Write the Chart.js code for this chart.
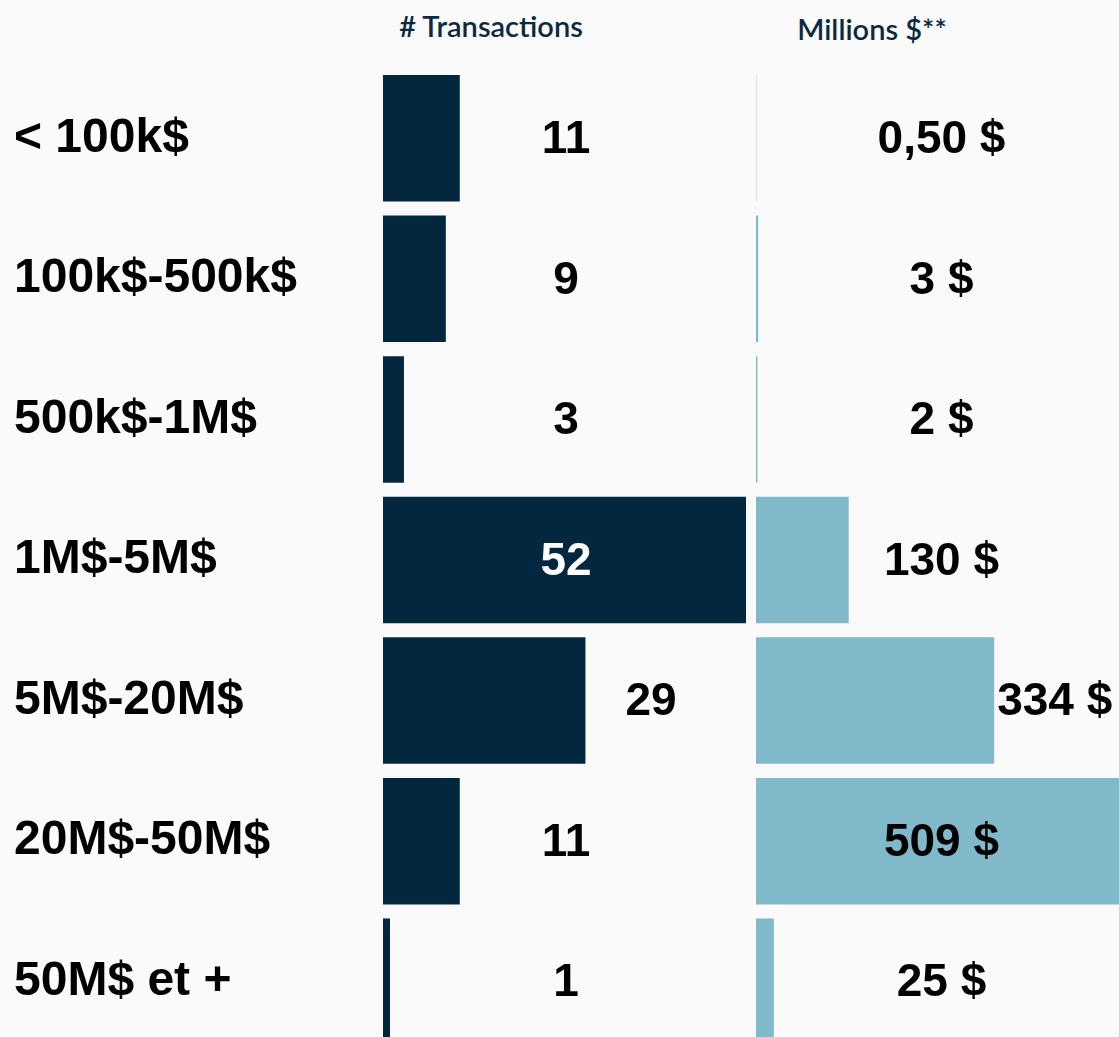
<!DOCTYPE html>
<html>
<head>
<meta charset="utf-8">
<script src="https://cdn.jsdelivr.net/npm/chart.js@4/dist/chart.umd.min.js"></script>
<style>
  html, body { margin: 0; padding: 0; background: #fafafa; overflow: hidden; width: 1119px; height: 1037px; }
  #wrap { position: relative; width: 1119px; height: 1037px; overflow: hidden; }
  .hdr { position: absolute; font-family: Lato, "Open Sans", sans-serif; font-weight: 600; color: #0b2a40; font-size: 29px; white-space: nowrap; transform: translateX(-50%); line-height: 1; }
  #leftBox { position: absolute; left: 0; top: 0; width: 751px; height: 1082px; }
  #rightBox { position: absolute; left: 756px; top: 0; width: 363px; height: 1082px; }
</style>
</head>
<body>
<div id="wrap">
  <div class="hdr" id="h0" style="left:491px; top:11px;"></div>
  <div class="hdr" id="h1" style="left:872px; top:14px;"></div>
  <div id="leftBox"><canvas id="leftChart"></canvas></div>
  <div id="rightBox"><canvas id="rightChart"></canvas></div>
</div>
<script>
const categories = ['< 100k$', '100k$-500k$', '500k$-1M$', '1M$-5M$', '5M$-20M$', '20M$-50M$', '50M$ et +'];
const transactions = [11, 9, 3, 52, 29, 11, 1];
const millions = [0.5, 3, 2, 130, 334, 509, 25];
const headers = ['# Transactions', 'Millions $**'];

document.getElementById('h0').textContent = headers[0];
document.getElementById('h1').textContent = headers[1];

const NAVY = '#02273f';
const LIGHT = '#80b9c9';
const LABEL_FONT = 'bold 46px "Liberation Sans", Arial, sans-serif';

function fmtMoney(v) {
  return (v < 1 ? v.toFixed(2).replace('.', ',') : String(v)) + ' $';
}

// Value labels: centred in the plot area, unless the bar end would collide
// with the label, in which case the label is drawn just past the bar end.
const valueLabels = {
  id: 'valueLabels',
  afterDatasetsDraw(chart, args, opts) {
    const ctx = chart.ctx;
    const area = chart.chartArea;
    const meta = chart.getDatasetMeta(0);
    const data = chart.data.datasets[0].data;
    ctx.save();
    ctx.font = LABEL_FONT;
    ctx.textBaseline = 'middle';
    meta.data.forEach((bar, i) => {
      const txt = opts.format(data[i]);
      const cx = (area.left + area.right) / 2 + opts.shift;
      const w = ctx.measureText(txt).width;
      let x = cx, align = 'center';
      const inside = opts.insideWhite.includes(i);
      if (!inside && bar.x > cx - w / 2 - 5 && bar.x < cx + w / 2 + 60) {
        x = bar.x + opts.outsideGap;
        align = 'left';
      }
      ctx.fillStyle = inside ? '#ffffff' : '#000000';
      ctx.textAlign = align;
      ctx.fillText(txt, x, bar.y + 2);
    });
    ctx.restore();
  }
};

const commonY = {
  type: 'category',
  grid: { display: false },
  border: { display: false }
};

new Chart(document.getElementById('leftChart'), {
  type: 'bar',
  data: {
    labels: categories,
    datasets: [{
      data: transactions,
      backgroundColor: NAVY,
      borderWidth: 0,
      categoryPercentage: 1,
      barPercentage: 0.9
    }]
  },
  options: {
    indexAxis: 'y',
    responsive: true,
    maintainAspectRatio: false,
    animation: false,
    layout: { padding: { left: 14, right: 5, top: 68, bottom: 30 } },
    plugins: {
      legend: { display: false },
      tooltip: { enabled: false },
      valueLabels: { format: v => String(v), outsideGap: 40, insideWhite: [3], shift: 1.5 }
    },
    scales: {
      x: { display: false, min: 0, max: 52 },
      y: Object.assign({}, commonY, {
        ticks: {
          crossAlign: 'far',
          color: '#000000',
          padding: 0,
          font: { family: '"Liberation Sans", Arial, sans-serif', size: 48, weight: 'bold', lineHeight: 1 }
        },
        afterFit(scale) { scale.width = 369; }
      })
    }
  },
  plugins: [valueLabels]
});

new Chart(document.getElementById('rightChart'), {
  type: 'bar',
  data: {
    labels: categories,
    datasets: [{
      data: millions,
      backgroundColor: LIGHT,
      borderWidth: 0,
      categoryPercentage: 1,
      barPercentage: 0.9
    }]
  },
  options: {
    indexAxis: 'y',
    responsive: true,
    maintainAspectRatio: false,
    animation: false,
    layout: { padding: { left: 0, right: 0, top: 68, bottom: 30 } },
    plugins: {
      legend: { display: false },
      tooltip: { enabled: false },
      valueLabels: { format: fmtMoney, outsideGap: 3, insideWhite: [], shift: 4 }
    },
    scales: {
      x: { display: false, min: 0, max: 509 },
      y: Object.assign({}, commonY, { display: false })
    }
  },
  plugins: [valueLabels]
});
</script>
</body>
</html>
